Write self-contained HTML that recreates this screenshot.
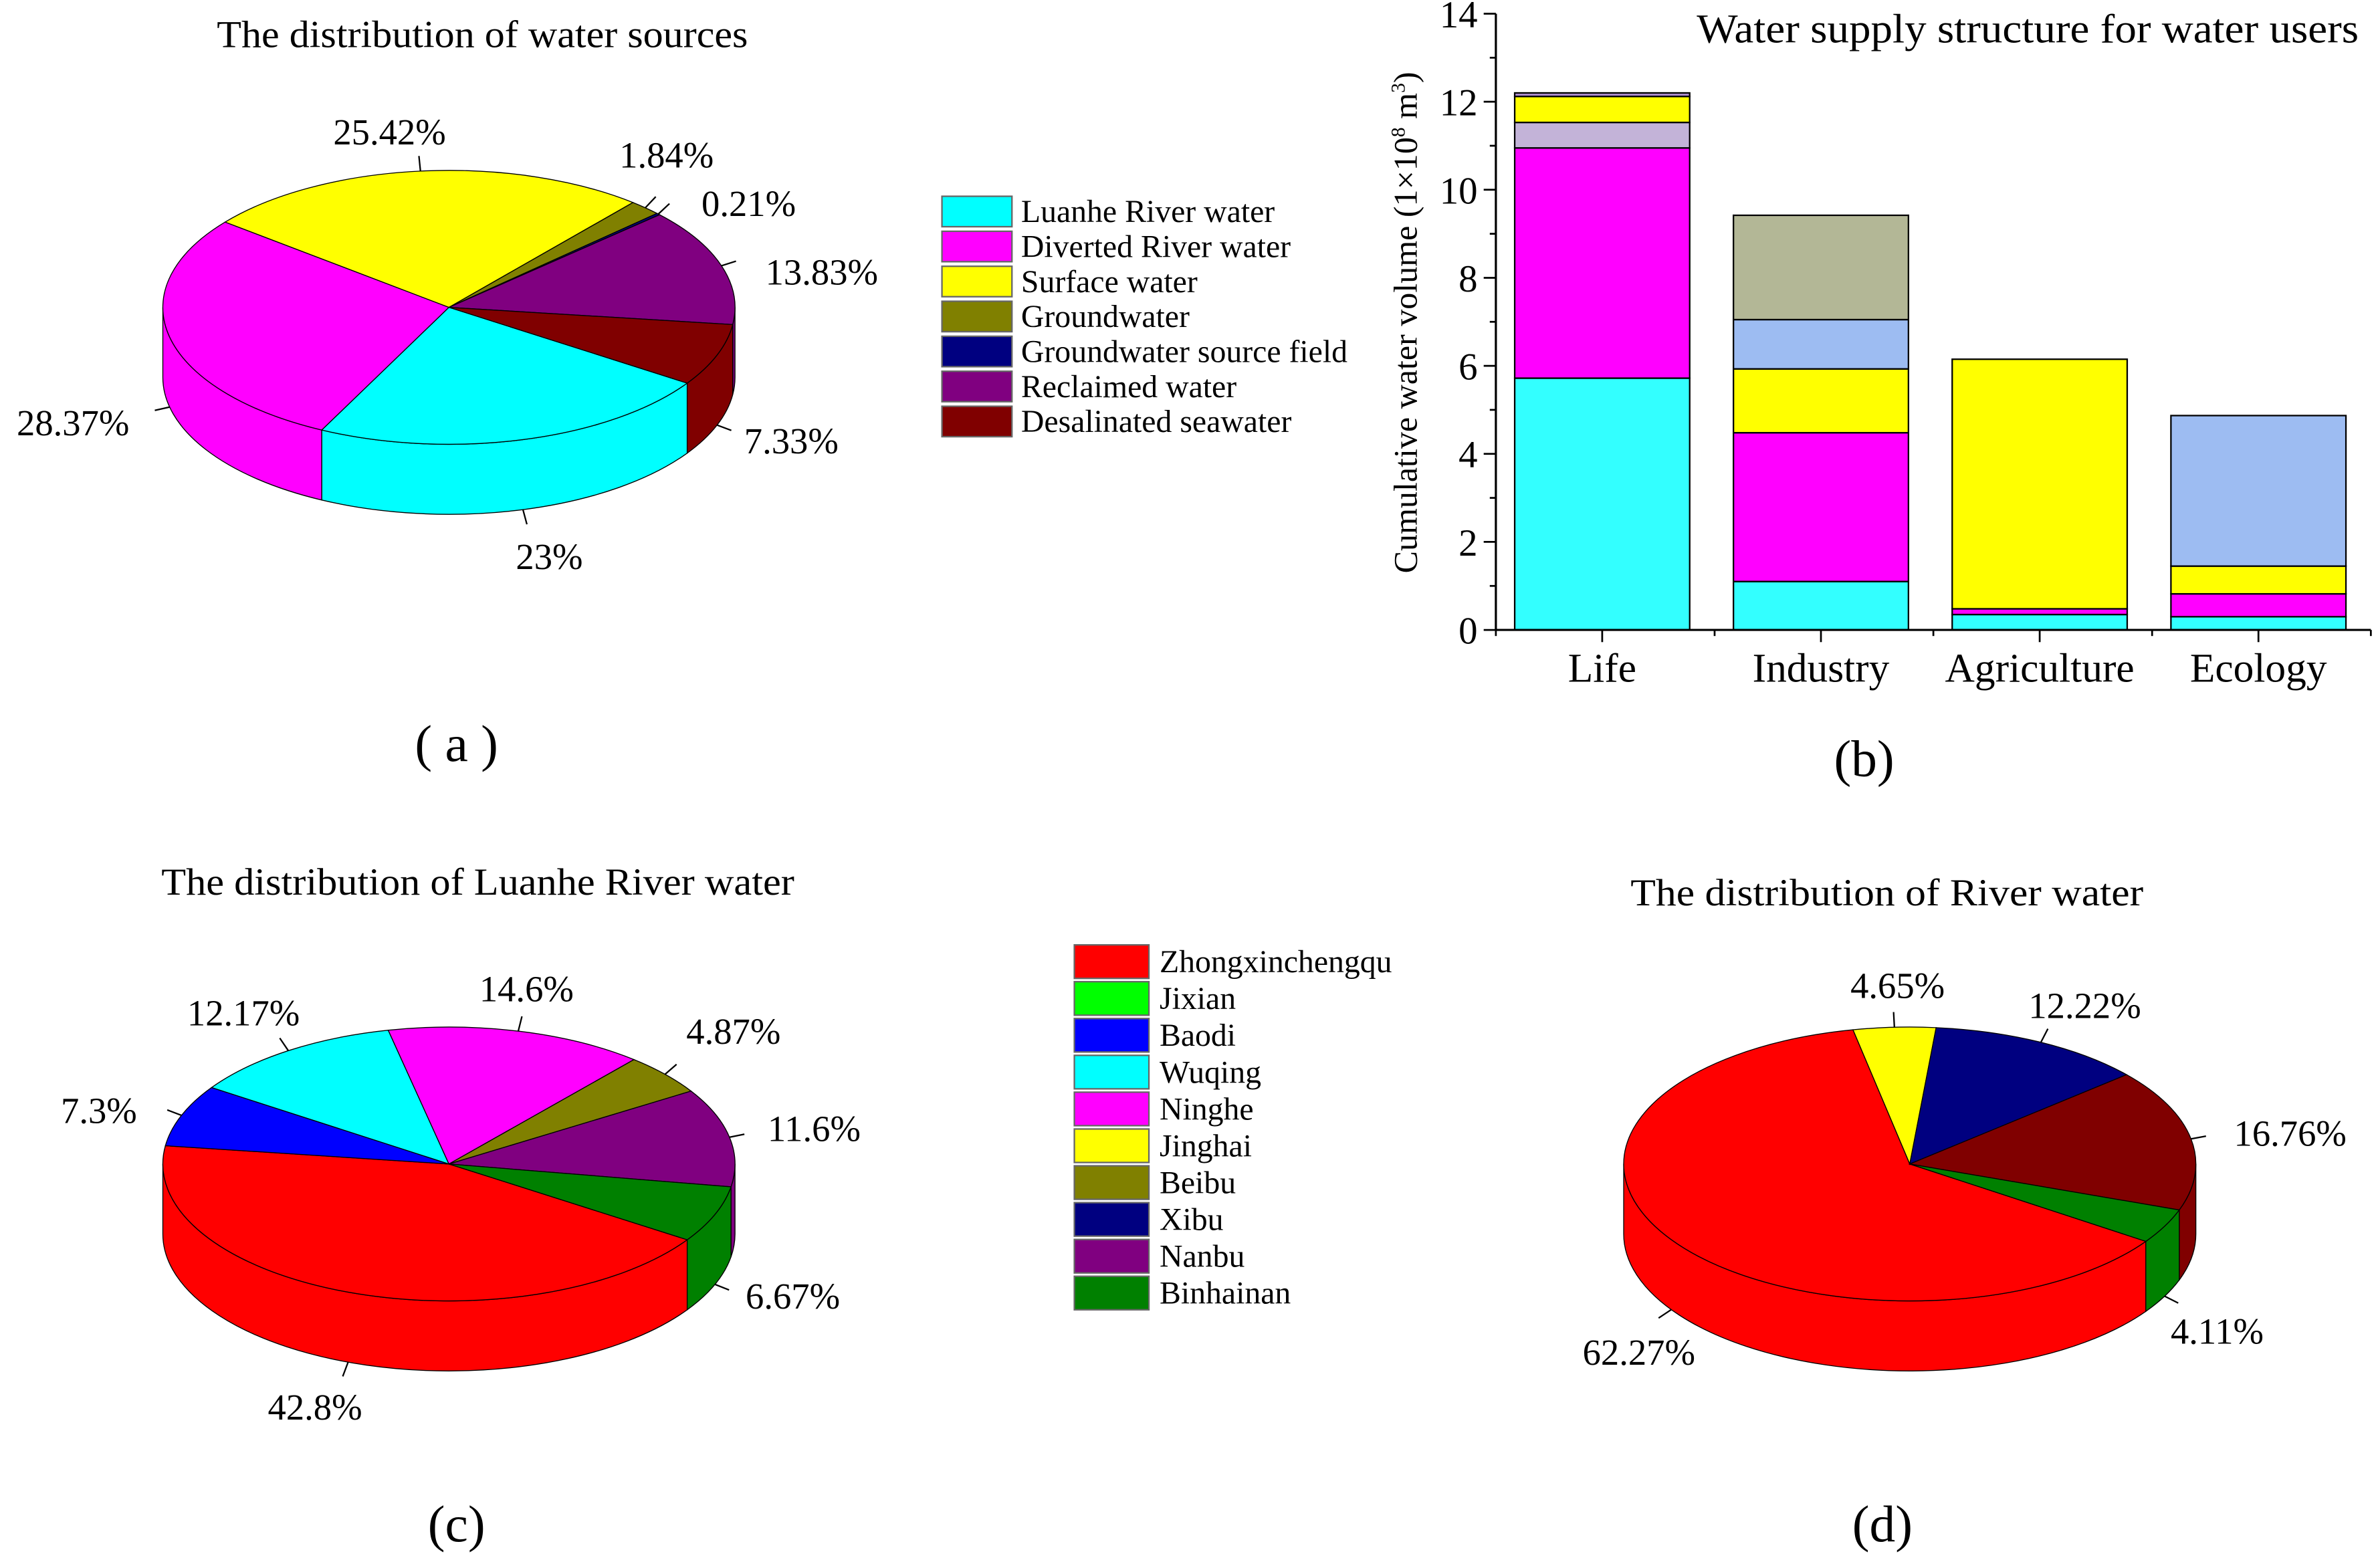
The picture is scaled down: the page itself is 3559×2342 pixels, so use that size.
<!DOCTYPE html>
<html><head><meta charset="utf-8">
<style>
html,body{margin:0;padding:0;background:#fff;}
svg{display:block;}
svg text{font-family:"Liberation Serif","DejaVu Serif",serif !important;fill:#000;}
</style></head>
<body>
<svg id="fig" xmlns="http://www.w3.org/2000/svg" width="3559" height="2342" viewBox="0 0 1564 1029.2" font-family="Liberation Serif, serif">
<rect width="1564" height="1029.2" fill="#fff"/>
<g id="pa"></g>
<g id="pc"></g>
<g id="pd"></g>
<g id="bar"></g>
<g id="leg"></g>
<g id="txt">
<text x="317" y="31" font-size="25" text-anchor="middle" textLength="349" lengthAdjust="spacingAndGlyphs">The distribution of water sources</text>
<text x="314" y="588" font-size="25" text-anchor="middle" textLength="416" lengthAdjust="spacingAndGlyphs">The distribution of Luanhe River water</text>
<text x="1240" y="595" font-size="25" text-anchor="middle" textLength="337" lengthAdjust="spacingAndGlyphs">The distribution of  River water</text>
<text x="1550" y="28" font-size="27" text-anchor="end" textLength="435" lengthAdjust="spacingAndGlyphs">Water supply structure for water users</text>
<text x="300" y="500" font-size="34" text-anchor="middle">( a )</text>
<text x="1225" y="510" font-size="34" text-anchor="middle">(b)</text>
<text x="300" y="1013" font-size="34" text-anchor="middle">(c)</text>
<text x="1237" y="1013" font-size="34" text-anchor="middle">(d)</text>
</g>
</svg>
<script>
// ---- data ----
var pieAValues = [23, 28.37, 25.42, 1.84, 0.21, 13.83, 7.33];
var pieALabels = ["23%", "28.37%", "25.42%", "1.84%", "0.21%", "13.83%", "7.33%"];
var pieANames = ["Luanhe River water","Diverted River water","Surface water","Groundwater","Groundwater source field","Reclaimed water","Desalinated seawater"];
var pieCValues = [42.8, 0, 7.3, 12.17, 14.6, 0, 4.87, 0, 11.6, 6.67];
var pieCLabels = ["42.8%", "", "7.3%", "12.17%", "14.6%", "", "4.87%", "", "11.6%", "6.67%"];
var pieCNames = ["Zhongxinchengqu","Jixian","Baodi","Wuqing","Ninghe","Jinghai","Beibu","Xibu","Nanbu","Binhainan"];
var pieDValues = [62.27, 4.65, 12.22, 16.76, 4.11];
var pieDLabels = ["62.27%", "4.65%", "12.22%", "16.76%", "4.11%"];
var barCategories = ["Life","Industry","Agriculture","Ecology"];
var barCyan = [5.72, 1.1, 0.35, 0.3];
var barMagenta = [5.23, 3.38, 0.13, 0.52];
var barLavender = [0.58, 0, 0, 0];
var barYellow = [0.59, 1.45, 5.67, 0.63];
var barLightBlue = [0, 1.12, 0, 3.42];
var barKhaki = [0, 2.37, 0, 0];
var barTop = [0.08, 0, 0, 0];
var yTicks = [0, 2, 4, 6, 8, 10, 12, 14];

var NS = "http://www.w3.org/2000/svg";
function mk(tag, attrs, parent) {
  var e = document.createElementNS(NS, tag);
  for (var k in attrs) e.setAttribute(k, attrs[k]);
  parent.appendChild(e);
  return e;
}
function rad(d){return d*Math.PI/180;}

function pie(gid, cx, cy, rx, ry, depth, start, values, colors, labels, labelPos) {
  var g = document.getElementById(gid);
  var total = values.reduce(function(a,b){return a+b;},0);
  var angs = [], a = start;
  values.forEach(function(v){ var s=a; a += v/total*360; angs.push([s,a]); });
  function pt(ang, dy){ return [cx+rx*Math.cos(rad(ang)), cy+ry*Math.sin(rad(ang))+(dy||0)]; }
  angs.forEach(function(r,i){
    if (values[i] <= 0) return;
    for (var k=-1;k<=1;k++){
      var lo = Math.max(r[0], k*360), hi = Math.min(r[1], k*360+180);
      if (hi <= lo) continue;
      var p1=pt(lo), p2=pt(hi), p3=pt(hi,depth), p4=pt(lo,depth);
      var d = "M"+p1+" A"+rx+","+ry+" 0 0 1 "+p2+" L"+p3+" A"+rx+","+ry+" 0 0 0 "+p4+" Z";
      var s = mk("path",{d:d,fill:colors[i],stroke:"#000","stroke-width":0.6},g);
      
      
    }
  });
  angs.forEach(function(r,i){
    if (values[i] <= 0) return;
    var p1=pt(r[0]), p2=pt(r[1]);
    var large = (r[1]-r[0])>180?1:0;
    var d = "M"+cx+","+cy+" L"+p1+" A"+rx+","+ry+" 0 "+large+" 1 "+p2+" Z";
    var s = mk("path",{d:d,fill:colors[i],stroke:"#000","stroke-width":0.6},g);
    
    
  });
  labels.forEach(function(t,i){
    if (!t || !labelPos[i]) return;
    var lp = labelPos[i];
    var m = (angs[i][0]+angs[i][1])/2;
    var front = Math.sin(rad(m))>0;
    var e = pt(m, front?depth:0);
    var ex = cx+(rx+10)*Math.cos(rad(m)), ey = cy+(ry+10)*Math.sin(rad(m))+(front?depth:0);
    var ln = mk("line",{x1:e[0],y1:e[1],x2:ex,y2:ey,stroke:"#000","stroke-width":1},g);
    
    
    var tx = mk("text",{x:lp[0],y:lp[1],"font-size":24,"text-anchor":"middle"},g);
    tx.textContent = t;
    
    
  });
}

pie("pa", 295, 202, 188, 90, 46, 33.6, pieAValues,
  ["#00ffff","#ff00ff","#ffff00","#808000","#000080","#800080","#800000"],
  pieALabels,
  [[361,374],[48,286],[256,95],[438,110],[492,142],[540,187],[520,298]]);
pie("pc", 295, 765, 188, 90, 46, 33.6, pieCValues,
  ["#ff0000","#00ff00","#0000ff","#00ffff","#ff00ff","#ffff00","#808000","#000080","#800080","#008000"],
  pieCLabels,
  [[207,933],null,[65,738],[160,674],[346,658],null,[482,686],null,[535,750],[521,860]]);
pie("pd", 1255, 765, 188, 90, 46, 34.4, pieDValues,
  ["#ff0000","#ffff00","#000080","#800000","#008000"],
  pieDLabels,
  [[1077,897],[1247,656],[1370,669],[1505,753],[1457,883]]);

(function(){
  var g = document.getElementById("leg");
  var colsA = ["#00ffff","#ff00ff","#ffff00","#808000","#000080","#800080","#800000"];
  pieANames.forEach(function(n,i){
    var y = 139 + i*23;
    var r = mk("rect",{x:619,y:y-10,width:46,height:20,fill:colsA[i],stroke:"#666","stroke-width":1},g);
    
    
    var t = mk("text",{x:671,y:y+7,"font-size":21},g);
    t.textContent = n;
    
    
  });
  var colsC = ["#ff0000","#00ff00","#0000ff","#00ffff","#ff00ff","#ffff00","#808000","#000080","#800080","#008000"];
  pieCNames.forEach(function(n,i){
    var y = 632 + i*24.2;
    var r = mk("rect",{x:706,y:y-11,width:49,height:22,fill:colsC[i],stroke:"#666","stroke-width":1},g);
    
    
    var t = mk("text",{x:762,y:y+7,"font-size":21},g);
    t.textContent = n;
    
    
  });
})();

(function(){
  var g = document.getElementById("bar");
  var x0 = 983, x1 = 1558, y0 = 414, yTop = 9, vmax = 14;
  function Y(v){ return y0 - (y0-yTop)*v/vmax; }
  var n = barCategories.length, bw = (x1-x0)/n;
  function X(i){ return x0 + bw*(i+0.5) - 2; }
  var series = [barCyan, barMagenta, barLavender, barYellow, barLightBlue, barKhaki, barTop];
  var cols = ["#33ffff","#ff00ff","#c3b3d8","#ffff00","#9dbcf2","#b3b796","#b08fd0"];
  barCategories.forEach(function(c,i){
    var acc = 0;
    series.forEach(function(s,k){
      var v = s[i]; if (v<=0) return;
      var r = mk("rect",{x:X(i)-57.5,y:Y(acc+v),width:115,height:Y(acc)-Y(acc+v),fill:cols[k],stroke:"#000","stroke-width":1},g);
      
      
      acc += v;
    });
    var t = mk("text",{x:X(i),y:448,"font-size":27,"text-anchor":"middle"},g);
    t.textContent = c;
    
    
    var tk = mk("line",{x1:X(i),y1:y0,x2:X(i),y2:y0+8,stroke:"#000","stroke-width":1.2},g);
    
    
  });
  for (var i=0;i<=n;i++){
    var mt = mk("line",{x1:x0+bw*i,y1:y0,x2:x0+bw*i,y2:y0+4,stroke:"#000","stroke-width":1.2},g);
    
    
  }
  var ax = mk("line",{x1:x0,y1:y0,x2:x1,y2:y0,stroke:"#000","stroke-width":1.4},g);
  
  
  var ay = mk("line",{x1:x0,y1:y0,x2:x0,y2:yTop,stroke:"#000","stroke-width":1.4},g);
  
  
  yTicks.forEach(function(v){
    var l = mk("line",{x1:x0-8,y1:Y(v),x2:x0,y2:Y(v),stroke:"#000","stroke-width":1.2},g);
    
    
    var t = mk("text",{x:x0-12,y:Y(v)+9,"font-size":25,"text-anchor":"end"},g);
    t.textContent = v;
    
    
    if (v < 14) {
      var m = mk("line",{x1:x0-4,y1:Y(v+1),x2:x0,y2:Y(v+1),stroke:"#000","stroke-width":1.2},g);
      
      
    }
  });
  var tt = mk("text",{x:0,y:0,"font-size":22,"text-anchor":"middle",transform:"translate(931,212) rotate(-90)"},g);
  
  
  tt.innerHTML = 'Cumulative water volume (1×10<tspan font-size="13" dy="-8">8</tspan><tspan dy="8"> m</tspan><tspan font-size="13" dy="-8">3</tspan><tspan dy="8">)</tspan>';
})();
</script>
</body></html>
